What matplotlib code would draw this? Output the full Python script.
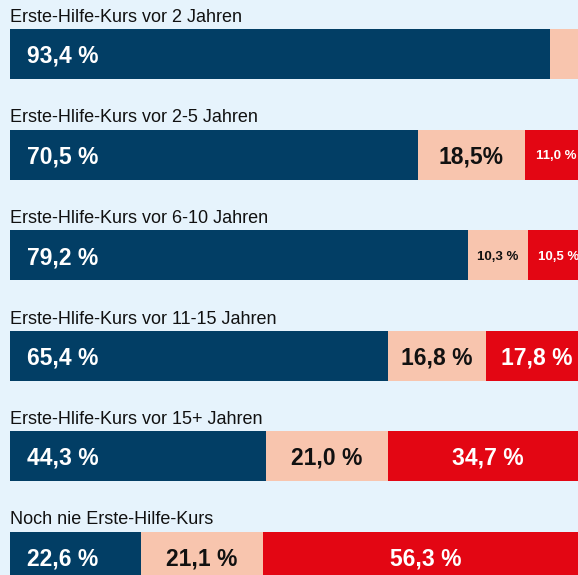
import matplotlib
matplotlib.use("Agg")
import matplotlib.pyplot as plt

# data
titles = [
    "Erste-Hilfe-Kurs vor 2 Jahren",
    "Erste-Hlife-Kurs vor 2-5 Jahren",
    "Erste-Hlife-Kurs vor 6-10 Jahren",
    "Erste-Hlife-Kurs vor 11-15 Jahren",
    "Erste-Hlife-Kurs vor 15+ Jahren",
    "Noch nie Erste-Hilfe-Kurs",
]
blue_vals = [93.4, 70.5, 79.2, 65.4, 44.3, 22.6]
peach_vals = [6.6, 18.5, 10.3, 16.8, 21.0, 21.1]
red_vals = [0.0, 11.0, 10.5, 17.8, 34.7, 56.3]
blue_labels = ["93,4 %", "70,5 %", "79,2 %", "65,4 %", "44,3 %", "22,6 %"]
peach_labels = ["", "18,5%", "10,3 %", "16,8 %", "21,0 %", "21,1 %"]
red_labels = ["", "11,0 %", "10,5 %", "17,8 %", "34,7 %", "56,3 %"]
small_peach = [False, False, True, False, False, False]
small_red = [False, True, True, False, False, False]

BG = "#e6f3fc"
BLUE = "#023e65"
PEACH = "#f8c5ae"
RED = "#e30613"

plt.rcParams["font.family"] = ["Liberation Sans", "DejaVu Sans"]

W, H = 578, 575
fig = plt.figure(figsize=(W / 100, H / 100), dpi=100)
fig.patch.set_facecolor(BG)
ax = fig.add_axes([0, 0, 1, 1])
ax.set_facecolor(BG)
ax.axis("off")

px_per_pct = 5.785
row_px = 100.5
ax.set_xlim(-10 / px_per_pct, (W - 10) / px_per_pct)
ax.set_ylim((H - 54) / row_px, -54 / row_px)

bar_h = 50 / row_px
rows = range(len(titles))

ax.barh(rows, blue_vals, height=bar_h, color=BLUE, linewidth=0)
ax.barh(rows, peach_vals, left=blue_vals, height=bar_h, color=PEACH, linewidth=0)
red_left = [b + p for b, p in zip(blue_vals, peach_vals)]
ax.barh(rows, red_vals, left=red_left, height=bar_h, color=RED, linewidth=0)

for i in rows:
    top = i - bar_h / 2
    ax.text(0, top - 7 / row_px, titles[i], fontsize=13, color="#111111",
            va="baseline", ha="left")
    ax.text(17 / px_per_pct, i, blue_labels[i], fontsize=16.5, fontweight="bold",
            color="white", va="center_baseline", ha="left")
    if peach_labels[i]:
        ax.text(blue_vals[i] + peach_vals[i] / 2, i, peach_labels[i],
                fontsize=9.5 if small_peach[i] else 16.5, fontweight="bold",
                color="#111111", va="center_baseline", ha="center")
    if red_labels[i]:
        ax.text(red_left[i] + red_vals[i] / 2, i, red_labels[i],
                fontsize=9.5 if small_red[i] else 16.5, fontweight="bold",
                color="white", va="center_baseline", ha="center")

fig.savefig("out.png", dpi=100, facecolor=BG)
